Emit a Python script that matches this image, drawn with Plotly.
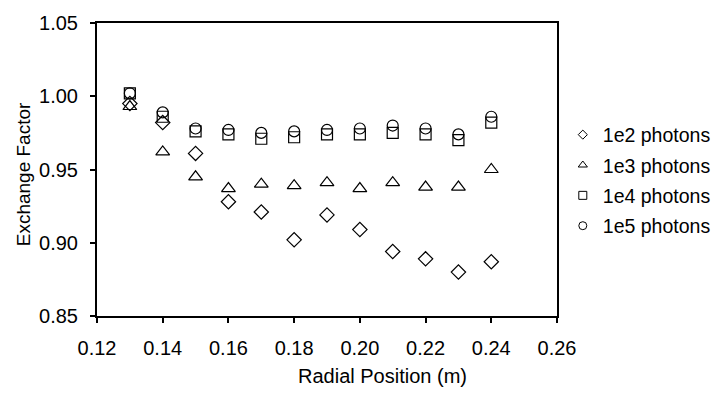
import plotly.graph_objects as go

radial = [0.13, 0.14, 0.15, 0.16, 0.17, 0.18, 0.19, 0.20, 0.21, 0.22, 0.23, 0.24]
ef_1e2 = [0.995, 0.982, 0.961, 0.928, 0.921, 0.902, 0.919, 0.909, 0.894, 0.889, 0.880, 0.887]
ef_1e3 = [0.993, 0.962, 0.945, 0.937, 0.940, 0.939, 0.941, 0.937, 0.941, 0.938, 0.938, 0.950]
ef_1e4 = [1.002, 0.986, 0.976, 0.974, 0.971, 0.972, 0.974, 0.974, 0.975, 0.974, 0.970, 0.982]
ef_1e5 = [1.002, 0.989, 0.978, 0.977, 0.975, 0.976, 0.977, 0.978, 0.980, 0.978, 0.974, 0.986]

series_names = ["1e2 photons", "1e3 photons", "1e4 photons", "1e5 photons"]
series_vals = [ef_1e2, ef_1e3, ef_1e4, ef_1e5]
symbols = ["diamond-open", "triangle-up-open", "square-open", "circle-open"]
sizes = [11, 12, 11, 11]
legend_sizes = [7, 8, 8, 8]

FONT = "Liberation Sans, Arial, sans-serif"

fig = go.Figure()
for name, vals, sym, sz in zip(series_names, series_vals, symbols, sizes):
    fig.add_trace(go.Scatter(
        x=radial, y=vals, mode="markers", name=name, showlegend=False,
        marker=dict(symbol=sym, size=sz, color="black", line=dict(color="black", width=1.2)),
    ))
# legend entries (smaller symbols, as in the reference legend)
for name, sym, sz in zip(series_names, symbols, legend_sizes):
    fig.add_trace(go.Scatter(
        x=[None], y=[None], mode="markers", name=name, showlegend=True,
        legendgroup=name,
        marker=dict(symbol=sym, size=sz, color="black", line=dict(color="black", width=1)),
    ))

fig.update_layout(
    width=728, height=394,
    margin=dict(l=97, r=156, t=15, b=78),
    paper_bgcolor="white", plot_bgcolor="white",
    font=dict(family=FONT, size=20, color="black"),
    showlegend=True,
    legend=dict(x=1.0 + 6 / 475, y=(316 - 110) / 301, xanchor="left", yanchor="top",
                font=dict(family=FONT, size=19.5, color="black"),
                tracegroupgap=2, itemwidth=30, bgcolor="rgba(0,0,0,0)"),
    annotations=[
        dict(text="Radial Position (m)", xref="paper", yref="paper",
             x=(392 - 97) / 475, y=(316 - 378) / 301, xanchor="center", yanchor="middle",
             showarrow=False, font=dict(family=FONT, size=20, color="black")),
        dict(text="Exchange Factor", xref="paper", yref="paper",
             x=(21 - 97) / 475, y=(316 - 170) / 301, xanchor="center", yanchor="middle",
             textangle=-90, showarrow=False, font=dict(family=FONT, size=19, color="black")),
    ],
)
fig.update_xaxes(
    range=[0.12, 0.26], tick0=0.12, dtick=0.02, tickformat=".2f",
    showgrid=False, zeroline=False,
    showline=True, linecolor="black", linewidth=2, mirror=True,
    ticks="outside", ticklen=5, tickwidth=1.5, tickcolor="black",
    ticklabelstandoff=8,
)
fig.update_yaxes(
    range=[0.85, 1.05], tick0=0.85, dtick=0.05, tickformat=".2f",
    showgrid=False, zeroline=False,
    showline=True, linecolor="black", linewidth=2, mirror=True,
    ticks="outside", ticklen=5, tickwidth=1.5, tickcolor="black",
    ticklabelstandoff=8,
)

fig.write_html("out.html")
